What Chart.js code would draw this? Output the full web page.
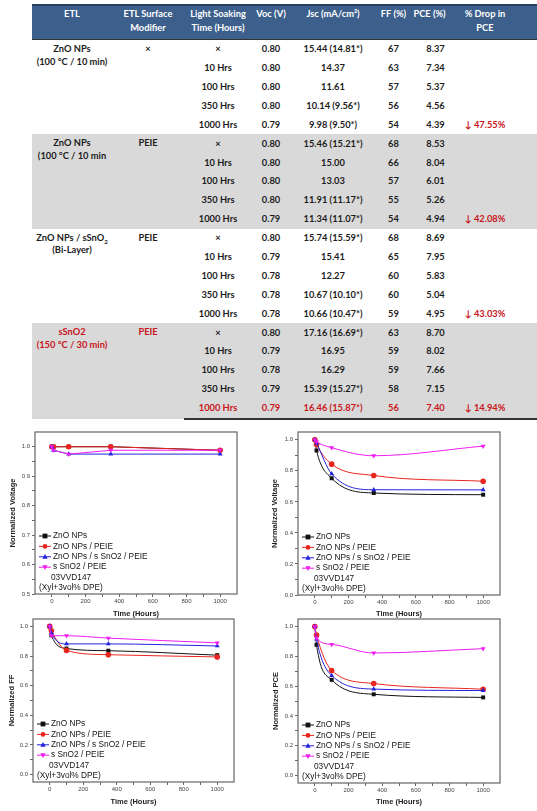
<!DOCTYPE html>
<html lang="en">

<head>
    <meta charset="UTF-8">
    <title>Light soaking stability</title>
    <script src="https://cdn.jsdelivr.net/npm/chart.js"></script>
    <style>
        body {
            margin: 0;
            background: #fff;
            width: 537px;
            height: 811px;
            overflow: hidden;
            position: relative;
        }

        #tbl {
            position: absolute;
            left: 32px;
            top: 4px;
        }

        table {
            border-collapse: collapse;
            table-layout: fixed;
            width: 505px;
            font-family: Lato, "Open Sans", sans-serif;
            font-weight: 700;
            font-size: 9.3px;
            color: #1c1c1c;
        }

        thead th {
            background: #3d5f8c;
            color: #fff;
            height: 32px;
            padding: 1px 0 0;
            line-height: 14px;
            vertical-align: top;
            border-top: 2px solid #24405f;
            border-bottom: 1px solid #333;
        }

        tbody td {
            height: 18.9px;
            padding: 0;
            text-align: center;
            line-height: 12.5px;
        }

        tbody td.top {
            vertical-align: top;
            padding-top: 3px;
        }

        tbody.g td {
            background: #d9d9d9;
        }

        tbody.last tr:last-child td {
            border-bottom: 2px solid #333;
        }

        td.pce {
            padding-left: 12px;
        }

        td.drop {
            padding-right: 15px;
            color: #c8151b;
        }

        .red {
            color: #c8151b;
        }

        .plot {
            position: absolute;
        }
    </style>
</head>

<body>
    <div id="tbl">
        <table>
            <colgroup>
                <col style="width:80px">
                <col style="width:72px">
                <col style="width:68px">
                <col style="width:38px">
                <col style="width:86px">
                <col style="width:35px">
                <col style="width:37px">
                <col style="width:89px">
            </colgroup>
            <thead>
                <tr>
                    <th>ETL</th>
                    <th>ETL Surface<br>Modifier</th>
                    <th>Light Soaking<br>Time (Hours)</th>
                    <th>Voc (V)</th>
                    <th>Jsc (mA/cm²)</th>
                    <th>FF (%)</th>
                    <th>PCE (%)</th>
                    <th style="padding-right:15px">% Drop in<br>PCE</th>
                </tr>
            </thead>
            <tbody>
                <tr><td rowspan="5" class="top">ZnO NPs<br>(100 °C / 10 min)</td><td rowspan="5" class="top">×</td><td>×</td><td>0.80</td><td>15.44 (14.81*)</td><td>67</td><td class="pce">8.37</td><td class="drop"></td></tr>
                <tr><td>10 Hrs</td><td>0.80</td><td>14.37</td><td>63</td><td class="pce">7.34</td><td class="drop"></td></tr>
                <tr><td>100 Hrs</td><td>0.80</td><td>11.61</td><td>57</td><td class="pce">5.37</td><td class="drop"></td></tr>
                <tr><td>350 Hrs</td><td>0.80</td><td>10.14 (9.56*)</td><td>56</td><td class="pce">4.56</td><td class="drop"></td></tr>
                <tr><td>1000 Hrs</td><td>0.79</td><td>9.98 (9.50*)</td><td>54</td><td class="pce">4.39</td><td class="drop">↓ 47.55%</td></tr>
            </tbody>
            <tbody class="g">
                <tr><td rowspan="5" class="top">ZnO NPs<br>(100 °C / 10 min</td><td rowspan="5" class="top">PEIE</td><td>×</td><td>0.80</td><td>15.46 (15.21*)</td><td>68</td><td class="pce">8.53</td><td class="drop"></td></tr>
                <tr><td>10 Hrs</td><td>0.80</td><td>15.00</td><td>66</td><td class="pce">8.04</td><td class="drop"></td></tr>
                <tr><td>100 Hrs</td><td>0.80</td><td>13.03</td><td>57</td><td class="pce">6.01</td><td class="drop"></td></tr>
                <tr><td>350 Hrs</td><td>0.80</td><td>11.91 (11.17*)</td><td>55</td><td class="pce">5.26</td><td class="drop"></td></tr>
                <tr><td>1000 Hrs</td><td>0.79</td><td>11.34 (11.07*)</td><td>54</td><td class="pce">4.94</td><td class="drop">↓ 42.08%</td></tr>
            </tbody>
            <tbody>
                <tr><td rowspan="5" class="top">ZnO NPs / sSnO<sub style="font-size:6px;line-height:0">2</sub><br>(Bi-Layer)</td><td rowspan="5" class="top">PEIE</td><td>×</td><td>0.80</td><td>15.74 (15.59*)</td><td>68</td><td class="pce">8.69</td><td class="drop"></td></tr>
                <tr><td>10 Hrs</td><td>0.79</td><td>15.41</td><td>65</td><td class="pce">7.95</td><td class="drop"></td></tr>
                <tr><td>100 Hrs</td><td>0.78</td><td>12.27</td><td>60</td><td class="pce">5.83</td><td class="drop"></td></tr>
                <tr><td>350 Hrs</td><td>0.78</td><td>10.67 (10.10*)</td><td>60</td><td class="pce">5.04</td><td class="drop"></td></tr>
                <tr><td>1000 Hrs</td><td>0.78</td><td>10.66 (10.47*)</td><td>59</td><td class="pce">4.95</td><td class="drop">↓ 43.03%</td></tr>
            </tbody>
            <tbody class="g last">
                <tr><td rowspan="5" class="top red">sSnO2<br>(150 °C / 30 min)</td><td rowspan="5" class="top red">PEIE</td><td>×</td><td>0.80</td><td>17.16 (16.69*)</td><td>63</td><td class="pce">8.70</td><td class="drop"></td></tr>
                <tr><td>10 Hrs</td><td>0.79</td><td>16.95</td><td>59</td><td class="pce">8.02</td><td class="drop"></td></tr>
                <tr><td>100 Hrs</td><td>0.78</td><td>16.29</td><td>59</td><td class="pce">7.66</td><td class="drop"></td></tr>
                <tr><td>350 Hrs</td><td>0.79</td><td>15.39 (15.27*)</td><td>58</td><td class="pce">7.15</td><td class="drop"></td></tr>
                <tr class="red"><td>1000 Hrs</td><td>0.79</td><td>16.46 (15.87*)</td><td>56</td><td class="pce">7.40</td><td class="drop">↓ 14.94%</td></tr>
            </tbody>
        </table>
    </div>

    <canvas id="cVoc" class="plot" width="265" height="196" style="left:0;top:426px"></canvas>
    <canvas id="cJsc" class="plot" width="269" height="196" style="left:268px;top:426px"></canvas>
    <canvas id="cFF" class="plot" width="265" height="199" style="left:0;top:612px"></canvas>
    <canvas id="cPCE" class="plot" width="269" height="199" style="left:268px;top:612px"></canvas>

    <script>
        // soaking times (hours) and normalized values
        const hours = [0, 10, 100, 350, 1000];
        const seriesNames = ['ZnO NPs', 'ZnO NPs / PEIE', 'ZnO NPs / s SnO2 / PEIE', 's SnO2 / PEIE'];
        const noteLines = ['03VVD147', '(Xyl+3vol% DPE)'];

        // tick positions (labels only on every other one)
        const xTicks = [0, 100, 200, 300, 400, 500, 600, 700, 800, 900, 1000];
        const yTicksVoc = [0.5, 0.55, 0.6, 0.65, 0.7, 0.75, 0.8, 0.85, 0.9, 0.95, 1.0];
        const yTicksNorm = [0, 0.1, 0.2, 0.3, 0.4, 0.5, 0.6, 0.7, 0.8, 0.9, 1.0];

        const vocZnO = [1.000, 1.000, 1.000, 1.000, 0.988];
        const vocZnOPeie = [1.000, 1.000, 1.000, 1.000, 0.988];
        const vocBiPeie = [1.000, 0.988, 0.975, 0.975, 0.975];
        const vocSnPeie = [1.000, 0.988, 0.975, 0.988, 0.988];

        const jscZnO = [1.000, 0.931, 0.752, 0.657, 0.646];
        const jscZnOPeie = [1.000, 0.970, 0.843, 0.770, 0.733];
        const jscBiPeie = [1.000, 0.979, 0.780, 0.678, 0.677];
        const jscSnPeie = [1.000, 0.988, 0.949, 0.897, 0.959];

        const ffZnO = [1.000, 0.940, 0.851, 0.836, 0.806];
        const ffZnOPeie = [1.000, 0.971, 0.838, 0.809, 0.794];
        const ffBiPeie = [1.000, 0.956, 0.882, 0.882, 0.868];
        const ffSnPeie = [1.000, 0.937, 0.937, 0.921, 0.889];

        const pceZnO = [1.000, 0.877, 0.642, 0.545, 0.524];
        const pceZnOPeie = [1.000, 0.943, 0.705, 0.617, 0.579];
        const pceBiPeie = [1.000, 0.915, 0.671, 0.580, 0.570];
        const pceSnPeie = [1.000, 0.922, 0.880, 0.822, 0.851];

        const colors = ['#111111', '#e8261f', '#2222dd', '#f01cf0'];
        const markers = ['rect', 'circle', 'triangle', 'triangle'];
        const rotations = [0, 0, 0, 180];

        const FONT = '"Liberation Sans", Arial, sans-serif';

        function drawMarker(ctx, kind, x, y, r) {
            ctx.beginPath();
            if (kind === 0) {
                ctx.rect(x - r, y - r, 2 * r, 2 * r);
            } else if (kind === 1) {
                ctx.arc(x, y, r, 0, Math.PI * 2);
            } else if (kind === 2) {
                ctx.moveTo(x, y - r * 1.2);
                ctx.lineTo(x + r * 1.1, y + r * 0.8);
                ctx.lineTo(x - r * 1.1, y + r * 0.8);
            } else {
                ctx.moveTo(x, y + r * 1.2);
                ctx.lineTo(x + r * 1.1, y - r * 0.8);
                ctx.lineTo(x - r * 1.1, y - r * 0.8);
            }
            ctx.closePath();
            ctx.fill();
        }

        // box around the plot + legend inside the lower left corner
        const framePlugin = {
            id: 'frame',
            afterDatasetsDraw(chart) {
                const ctx = chart.ctx;
                const a = chart.chartArea;
                ctx.save();
                ctx.strokeStyle = '#707070';
                ctx.lineWidth = 1.3;
                ctx.strokeRect(a.left, a.top, a.right - a.left, a.bottom - a.top);

                const rowH = 10.4;
                const x0 = a.left + 4;
                let y = a.bottom - 6 - rowH * 5;
                ctx.font = '8.3px ' + FONT;
                ctx.textBaseline = 'middle';
                seriesNames.forEach((name, i) => {
                    ctx.strokeStyle = colors[i];
                    ctx.fillStyle = colors[i];
                    ctx.lineWidth = 1;
                    ctx.beginPath();
                    ctx.moveTo(x0, y);
                    ctx.lineTo(x0 + 12, y);
                    ctx.stroke();
                    drawMarker(ctx, i, x0 + 6, y, 2.4);
                    ctx.fillStyle = '#151515';
                    ctx.fillText(name, x0 + 14, y);
                    y += rowH;
                });
                ctx.fillStyle = '#151515';
                ctx.fillText(noteLines[0], x0 + 12, y);
                y += rowH;
                ctx.fillText(noteLines[1], x0, y);
                ctx.restore();
            }
        };

        function makeChart(id, box, yTitle, yMin, yMax, yTicks, yLabelStep, values, curved) {
            const datasets = values.map((vals, i) => ({
                label: seriesNames[i],
                data: hours.map((h, k) => ({ x: h, y: vals[k] })),
                borderColor: colors[i],
                backgroundColor: colors[i],
                borderWidth: 1,
                pointStyle: markers[i],
                rotation: rotations[i],
                pointRadius: 2.8,
                pointBorderWidth: 0,
                cubicInterpolationMode: curved ? 'monotone' : 'default',
                tension: 0,
                order: 4 - i
            }));

            const onStep = (v, step) => Math.abs(v / step - Math.round(v / step)) < 1e-6;

            new Chart(document.getElementById(id), {
                type: 'line',
                data: { datasets: datasets },
                options: {
                    responsive: false,
                    animation: false,
                    events: [],
                    layout: { padding: { top: box.top, right: box.right, left: 0, bottom: 0 } },
                    plugins: { legend: { display: false }, tooltip: { enabled: false } },
                    scales: {
                        x: {
                            type: 'linear',
                            min: -100,
                            max: 1100,
                            afterFit: s => { s.height = box.xh; },
                            afterBuildTicks: s => { s.ticks = xTicks.map(v => ({ value: v })); },
                            ticks: {
                                autoSkip: false,
                                maxRotation: 0,
                                padding: 1,
                                color: '#444',
                                font: { family: FONT, size: 6 },
                                callback: v => (onStep(v, 200) ? String(v) : '')
                            },
                            grid: { drawOnChartArea: false, tickLength: 3, color: '#666' },
                            border: { display: false },
                            title: {
                                display: true,
                                text: 'Time (Hours)',
                                color: '#222',
                                font: { family: FONT, size: 7.5, weight: 'bold' },
                                padding: { top: 0, bottom: box.xtp }
                            }
                        },
                        y: {
                            min: yMin,
                            max: yMax,
                            afterFit: s => { s.width = box.yw; },
                            afterBuildTicks: s => { s.ticks = yTicks.map(v => ({ value: v })); },
                            ticks: {
                                autoSkip: false,
                                padding: 2,
                                color: '#444',
                                font: { family: FONT, size: 6 },
                                callback: v => (onStep(v, yLabelStep) ? v.toFixed(1) : '')
                            },
                            grid: { drawOnChartArea: false, tickLength: 3, color: '#666' },
                            border: { display: false },
                            title: {
                                display: true,
                                text: yTitle,
                                color: '#222',
                                font: { family: FONT, size: 7.5, weight: 'bold' },
                                padding: { top: box.ytp, bottom: 0 }
                            }
                        }
                    }
                },
                plugins: [framePlugin]
            });
        }

        makeChart('cVoc', { top: 6, right: 28, xh: 28, yw: 35, xtp: 3.5, ytp: 8.5 },
            'Normalized Voltage', 0.5, 1.05, yTicksVoc, 0.1,
            [vocZnO, vocZnOPeie, vocBiPeie, vocSnPeie], false);

        makeChart('cJsc', { top: 6, right: 37, xh: 27, yw: 30, xtp: 3.5, ytp: 2.5 },
            'Normalized Voltage', 0, 1.05, yTicksNorm, 0.2,
            [jscZnO, jscZnOPeie, jscBiPeie, jscSnPeie], true);

        makeChart('cFF', { top: 7, right: 31, xh: 29, yw: 33, xtp: 4.5, ytp: 7.5 },
            'Normalized FF', -0.05, 1.05, yTicksNorm, 0.2,
            [ffZnO, ffZnOPeie, ffBiPeie, ffSnPeie], true);

        makeChart('cPCE', { top: 7, right: 37, xh: 28, yw: 30, xtp: 4.5, ytp: 3.5 },
            'Normalized PCE', -0.05, 1.05, yTicksNorm, 0.2,
            [pceZnO, pceZnOPeie, pceBiPeie, pceSnPeie], true);
    </script>
</body>

</html>
